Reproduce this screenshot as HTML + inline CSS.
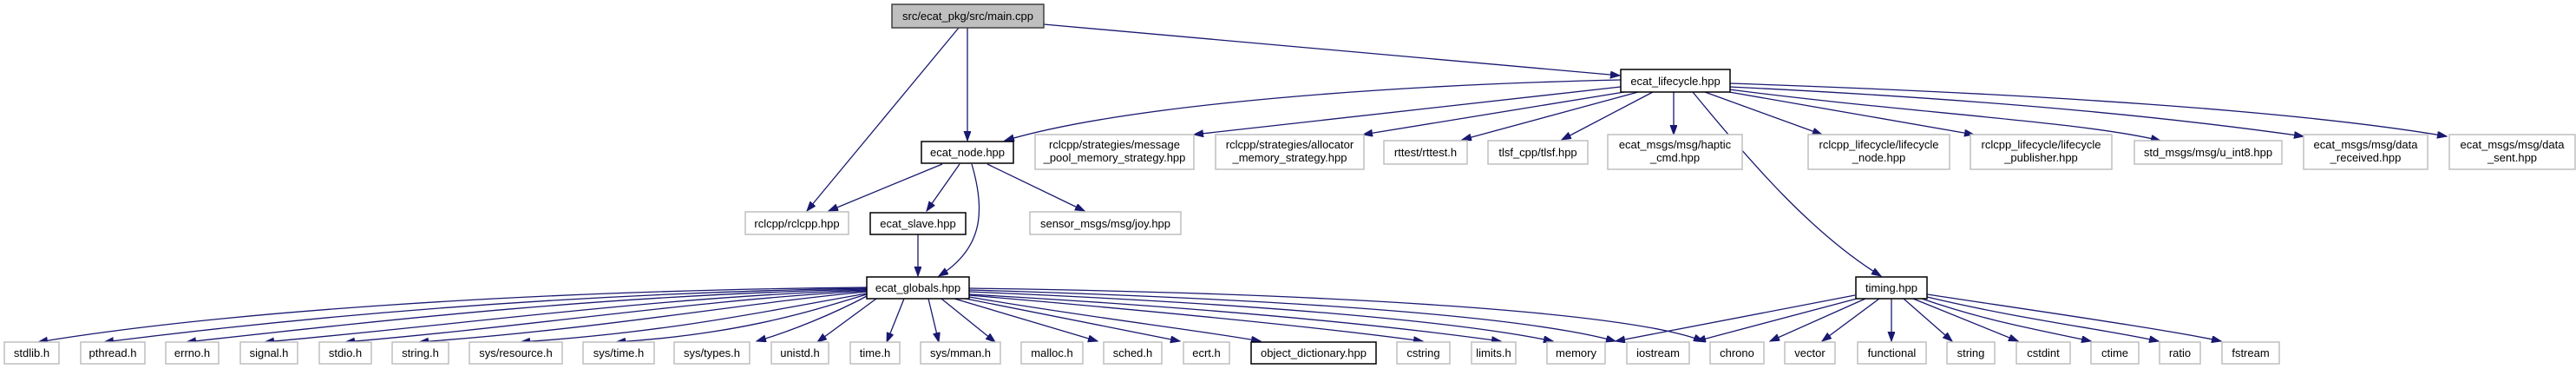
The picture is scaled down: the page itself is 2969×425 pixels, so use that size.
<!DOCTYPE html>
<html><head><meta charset="utf-8"><style>
html,body{margin:0;padding:0;background:#fff;}
svg{display:block;}
text{font-family:"Liberation Sans",Arial,sans-serif;font-size:13px;fill:#000;text-anchor:middle;}
.g{fill:#fff;stroke:#bfbfbf;stroke-width:1.5;}
.b{fill:#fff;stroke:#000;stroke-width:1.5;}
.e{fill:none;stroke:#191970;stroke-width:1.3;}
</style></head><body>
<svg width="2969" height="425" viewBox="0 0 2969 425" xmlns="http://www.w3.org/2000/svg">
<defs><marker id="a" markerUnits="userSpaceOnUse" markerWidth="12" markerHeight="10" refX="11" refY="4" orient="auto"><path d="M0,0 L11,4 L0,8 z" fill="#191970" stroke="#191970"/></marker></defs>

<!-- edges -->
<g class="e" marker-end="url(#a)">
<path d="M1115,32 L1115,162"/>
<path d="M1105,32 L930,243"/>
<path d="M1203,28 L1867,87"/>
<path d="M1086,189 L955,243"/>
<path d="M1106,189 L1068,243"/>
<path d="M1120,189 C1135,240 1135,285 1082,318"/>
<path d="M1138,189 L1250,243"/>
<path d="M1058,270 L1058,318"/>
<path d="M1868,92 C1600,98 1300,120 1158,162"/>
<path d="M1868,100 L1376,155"/>
<path d="M1872,106 L1571,155"/>
<path d="M1888,106 L1685,161"/>
<path d="M1905,106 L1800,161"/>
<path d="M1929,106 L1929,155"/>
<path d="M1951,106 C2020,190 2090,270 2168,318"/>
<path d="M1965,106 L2100,155"/>
<path d="M1993,106 L2275,155"/>
<path d="M1993,103 C2200,130 2400,140 2490,162"/>
<path d="M1993,100 C2300,115 2500,135 2655,157"/>
<path d="M1993,96 C2350,108 2650,128 2820,157"/>
<!-- globals to bottom -->
<path d="M999,331 C600,335 250,360 44,394"/>
<path d="M999,332 C650,338 350,365 120,394"/>
<path d="M999,333 C700,340 450,368 215,394"/>
<path d="M999,334 C750,343 550,372 305,394"/>
<path d="M999,335 C800,346 620,375 398,394"/>
<path d="M999,336 C850,350 700,378 483,394"/>
<path d="M999,338 C900,355 780,382 600,394"/>
<path d="M999,339 C930,360 850,385 710,394"/>
<path d="M1001,340 C960,362 910,382 872,393"/>
<path d="M1010,344 L942,394"/>
<path d="M1042,344 L1022,394"/>
<path d="M1070,344 L1082,394"/>
<path d="M1085,344 L1147,394"/>
<path d="M1100,344 L1265,393"/>
<path d="M1113,344 L1360,393"/>
<path d="M1117,342 C1250,365 1380,380 1453,393"/>
<path d="M1117,340 C1350,360 1530,378 1640,393"/>
<path d="M1117,339 C1400,355 1600,375 1730,393"/>
<path d="M1117,336 C1450,350 1680,370 1790,393"/>
<path d="M1117,334 C1500,345 1760,365 1862,393"/>
<path d="M1117,332 C1550,338 1880,360 1963,393"/>
<!-- timing to bottom -->
<path d="M2138,340 L1862,393"/>
<path d="M2140,344 L1955,393"/>
<path d="M2150,344 L2040,393"/>
<path d="M2166,344 L2100,393"/>
<path d="M2180,344 L2180,393"/>
<path d="M2194,344 L2250,393"/>
<path d="M2205,344 L2326,393"/>
<path d="M2215,344 C2290,370 2350,380 2410,393"/>
<path d="M2221,342 C2330,368 2430,380 2488,393"/>
<path d="M2221,339 C2360,360 2500,380 2560,393"/>
</g>

<!-- nodes -->
<rect x="1028" y="5" width="175" height="27" fill="#bfbfbf" stroke="#404040" stroke-width="1.5"/>
<text x="1115.5" y="23">src/ecat_pkg/src/main.cpp</text>

<rect class="b" x="1868" y="80" width="126" height="26"/><text x="1931" y="98">ecat_lifecycle.hpp</text>

<rect class="b" x="1062" y="163" width="106" height="25"/><text x="1115" y="180">ecat_node.hpp</text>
<rect class="g" x="1193" y="155" width="183" height="40"/><text x="1284.5" y="171">rclcpp/strategies/message</text><text x="1284.5" y="186">_pool_memory_strategy.hpp</text>
<rect class="g" x="1401" y="155" width="171" height="40"/><text x="1486.5" y="171">rclcpp/strategies/allocator</text><text x="1486.5" y="186">_memory_strategy.hpp</text>
<rect class="g" x="1595" y="162" width="96" height="27"/><text x="1643" y="180">rttest/rttest.h</text>
<rect class="g" x="1715" y="162" width="115" height="27"/><text x="1772.5" y="180">tlsf_cpp/tlsf.hpp</text>
<rect class="g" x="1853" y="155" width="155" height="40"/><text x="1930.5" y="171">ecat_msgs/msg/haptic</text><text x="1930.5" y="186">_cmd.hpp</text>
<rect class="g" x="2084" y="155" width="163" height="40"/><text x="2165.5" y="171">rclcpp_lifecycle/lifecycle</text><text x="2165.5" y="186">_node.hpp</text>
<rect class="g" x="2271" y="155" width="163" height="40"/><text x="2352.5" y="171">rclcpp_lifecycle/lifecycle</text><text x="2352.5" y="186">_publisher.hpp</text>
<rect class="g" x="2460" y="162" width="170" height="27"/><text x="2545" y="180">std_msgs/msg/u_int8.hpp</text>
<rect class="g" x="2655" y="155" width="143" height="40"/><text x="2726.5" y="171">ecat_msgs/msg/data</text><text x="2726.5" y="186">_received.hpp</text>
<rect class="g" x="2823" y="155" width="145" height="40"/><text x="2895.5" y="171">ecat_msgs/msg/data</text><text x="2895.5" y="186">_sent.hpp</text>

<rect class="g" x="859" y="244" width="119" height="26"/><text x="918.5" y="262">rclcpp/rclcpp.hpp</text>
<rect class="b" x="1003" y="245" width="110" height="25"/><text x="1058" y="262">ecat_slave.hpp</text>
<rect class="g" x="1187" y="244" width="174" height="26"/><text x="1274" y="262">sensor_msgs/msg/joy.hpp</text>

<rect class="b" x="999" y="319" width="118" height="25"/><text x="1058" y="336">ecat_globals.hpp</text>
<rect class="b" x="2139" y="319" width="82" height="25"/><text x="2180" y="336">timing.hpp</text>

<g>
<rect class="g" x="5" y="394" width="63" height="25"/><text x="36.5" y="411">stdlib.h</text>
<rect class="g" x="93" y="394" width="74" height="25"/><text x="130" y="411">pthread.h</text>
<rect class="g" x="191" y="394" width="61" height="25"/><text x="221.5" y="411">errno.h</text>
<rect class="g" x="277" y="394" width="66" height="25"/><text x="310" y="411">signal.h</text>
<rect class="g" x="368" y="394" width="60" height="25"/><text x="398" y="411">stdio.h</text>
<rect class="g" x="452" y="394" width="65" height="25"/><text x="484.5" y="411">string.h</text>
<rect class="g" x="541" y="394" width="107" height="25"/><text x="594.5" y="411">sys/resource.h</text>
<rect class="g" x="672" y="394" width="82" height="25"/><text x="713" y="411">sys/time.h</text>
<rect class="g" x="777" y="394" width="87" height="25"/><text x="820.5" y="411">sys/types.h</text>
<rect class="g" x="889" y="394" width="66" height="25"/><text x="922" y="411">unistd.h</text>
<rect class="g" x="980" y="394" width="57" height="25"/><text x="1008.5" y="411">time.h</text>
<rect class="g" x="1061" y="394" width="92" height="25"/><text x="1107" y="411">sys/mman.h</text>
<rect class="g" x="1177" y="394" width="71" height="25"/><text x="1212.5" y="411">malloc.h</text>
<rect class="g" x="1272" y="394" width="67" height="25"/><text x="1305.5" y="411">sched.h</text>
<rect class="g" x="1364" y="394" width="53" height="25"/><text x="1390.5" y="411">ecrt.h</text>
<rect class="b" x="1442" y="394" width="144" height="25"/><text x="1514" y="411">object_dictionary.hpp</text>
<rect class="g" x="1610" y="394" width="61" height="25"/><text x="1640.5" y="411">cstring</text>
<rect class="g" x="1696" y="394" width="51" height="25"/><text x="1721.5" y="411">limits.h</text>
<rect class="g" x="1783" y="394" width="67" height="25"/><text x="1816.5" y="411">memory</text>
<rect class="g" x="1875" y="394" width="72" height="25"/><text x="1911" y="411">iostream</text>
<rect class="g" x="1971" y="394" width="62" height="25"/><text x="2002" y="411">chrono</text>
<rect class="g" x="2057" y="394" width="58" height="25"/><text x="2086" y="411">vector</text>
<rect class="g" x="2141" y="394" width="79" height="25"/><text x="2180.5" y="411">functional</text>
<rect class="g" x="2244" y="394" width="55" height="25"/><text x="2271.5" y="411">string</text>
<rect class="g" x="2324" y="394" width="62" height="25"/><text x="2355" y="411">cstdint</text>
<rect class="g" x="2410" y="394" width="55" height="25"/><text x="2437.5" y="411">ctime</text>
<rect class="g" x="2489" y="394" width="47" height="25"/><text x="2512.5" y="411">ratio</text>
<rect class="g" x="2561" y="394" width="66" height="25"/><text x="2594" y="411">fstream</text>
</g>
</svg>
</body></html>
